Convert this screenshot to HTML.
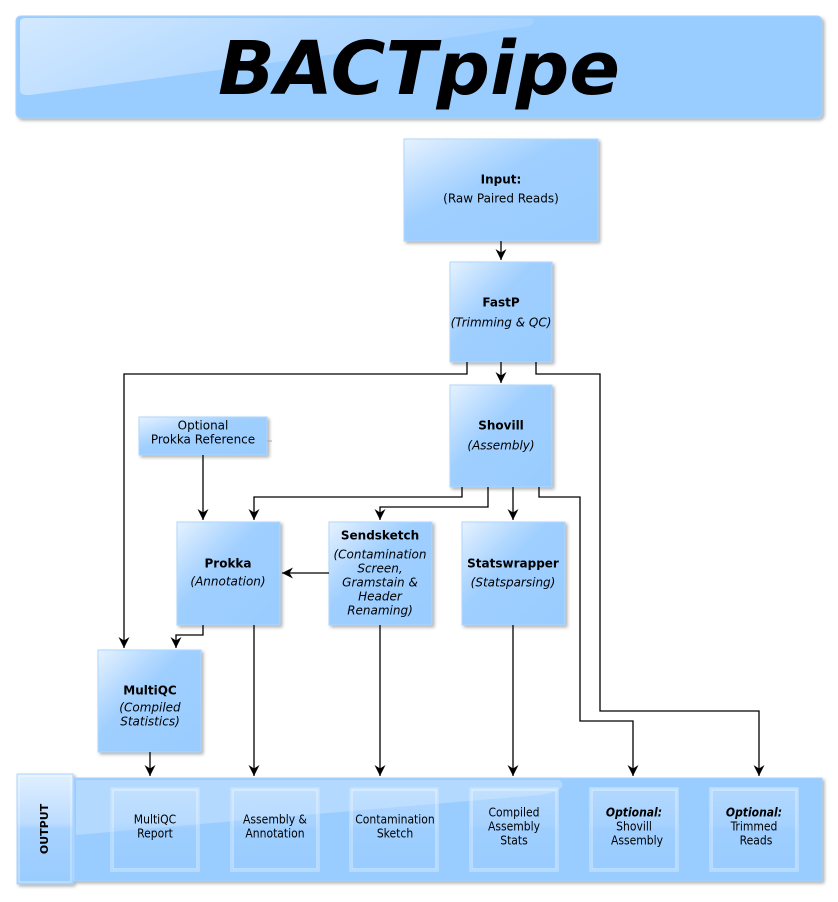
<!DOCTYPE html>
<html><head><meta charset="utf-8">
<style>
html,body{margin:0;padding:0;background:#fff;}
svg{display:block;font-family:"DejaVu Sans","Liberation Sans",sans-serif;}
</style></head><body>
<svg width="838" height="902" viewBox="0 0 838 902" xmlns="http://www.w3.org/2000/svg">
<defs>
<linearGradient id="gl" x1="0" y1="0" x2="1" y2="1">
<stop offset="0" stop-color="#e6f2ff"/><stop offset="0.3" stop-color="#b2d8ff"/><stop offset="0.42" stop-color="#9fcfff"/><stop offset="1" stop-color="#99ccff"/>
</linearGradient>
<linearGradient id="gv" x1="0" y1="0" x2="0" y2="1">
<stop offset="0" stop-color="#e0efff"/><stop offset="0.45" stop-color="#bcdcff"/><stop offset="0.5" stop-color="#a6d2ff"/><stop offset="1" stop-color="#99ccff"/>
</linearGradient>
<linearGradient id="gt" x1="0" y1="0" x2="1" y2="0.3">
<stop offset="0" stop-color="#e6f2ff"/><stop offset="0.6" stop-color="#b8dbff"/><stop offset="1" stop-color="#a6d2ff"/>
</linearGradient>
<filter id="sh" x="-10%" y="-10%" width="130%" height="130%"><feDropShadow dx="2" dy="2" stdDeviation="1.5" flood-color="#000" flood-opacity="0.3"/></filter>
<marker id="ar" markerWidth="12" markerHeight="12" refX="11" refY="5.5" orient="auto" markerUnits="userSpaceOnUse">
<path d="M0,0 L11,5.5 L0,11 L3.5,5.5 Z" fill="#000"/></marker>
</defs>

<rect x="16" y="16" width="806" height="102" rx="5" fill="#99ccff" stroke="#a8d3ff" filter="url(#sh)"/>
<path d="M20,22 Q20,18 26,18 L530,18 Q538,20 530,26 Q300,60 30,95 Q20,96 20,90 Z" fill="url(#gt)" opacity="0.75"/>
<text x="419" y="94" text-anchor="middle" font-size="74" font-weight="bold" font-style="italic" textLength="402" lengthAdjust="spacingAndGlyphs">BACTpipe</text>

<g stroke="#b0d8ff" stroke-width="1" filter="url(#sh)">
<rect x="404" y="139" width="194" height="102" fill="url(#gl)"/>
<rect x="450" y="262" width="102" height="100" fill="url(#gl)"/>
<rect x="450" y="385" width="102" height="102" fill="url(#gl)"/>
<rect x="139" y="417" width="128" height="38" fill="url(#gl)"/>
<rect x="177" y="522" width="103" height="103" fill="url(#gl)"/>
<rect x="329" y="522" width="103" height="103" fill="url(#gl)"/>
<rect x="462" y="522" width="103" height="103" fill="url(#gl)"/>
<rect x="98" y="650" width="103" height="102" fill="url(#gl)"/>
<rect x="74" y="778" width="748" height="103" fill="#99ccff" stroke="#a8d3ff"/>
<rect x="17" y="774" width="56" height="110" fill="url(#gv)"/>
</g>
<path d="M76,780 L560,780 Q570,790 540,795 Q300,815 76,835 Z" fill="#c4e1ff" opacity="0.6"/>
<g fill="none" stroke="#fff" stroke-opacity="0.6">
<rect x="19" y="776" width="52" height="106"/>
</g>
<g stroke="#cfe7ff" fill="url(#gv)" fill-opacity="0.35">
<rect x="111" y="788" width="88" height="83"/>
<rect x="231" y="788" width="88" height="83"/>
<rect x="350" y="788" width="88" height="83"/>
<rect x="470" y="788" width="88" height="83"/>
<rect x="590" y="788" width="88" height="83"/>
<rect x="710" y="788" width="88" height="83"/>
</g>
<g stroke="#fff" fill="none" stroke-opacity="0.6">
<rect x="113" y="790" width="84" height="79"/>
<rect x="233" y="790" width="84" height="79"/>
<rect x="352" y="790" width="84" height="79"/>
<rect x="472" y="790" width="84" height="79"/>
<rect x="592" y="790" width="84" height="79"/>
<rect x="712" y="790" width="84" height="79"/>
</g>

<g stroke="#000" stroke-width="1.3" fill="none" marker-end="url(#ar)">
<path d="M501,241 V260"/>
<path d="M501,362 V383"/>
<path d="M467,362 V374 H124 V648"/>
<path d="M536,362 V374 H600 V711 H759 V776"/>
<path d="M462,487 V497 H254 V520"/>
<path d="M488,487 V507 H380 V520"/>
<path d="M513,487 V520"/>
<path d="M539,487 V497 H580 V721 H633 V776"/>
<path d="M203,455 V520"/>
<path d="M329,573 H282"/>
<path d="M203,625 V635 H176 V648"/>
<path d="M254,625 V776"/>
<path d="M380,625 V776"/>
<path d="M513,625 V776"/>
<path d="M150,752 V776"/>
</g>
<path d="M267,441 H272" stroke="#aaa"/>

<g font-size="12" text-anchor="middle" fill="#000" transform="translate(0,-3.5)">
<text x="501" y="187" font-weight="bold">Input:</text>
<text x="501" y="206">(Raw Paired Reads)</text>
<text x="501" y="310" font-weight="bold">FastP</text>
<text x="501" y="330" font-style="italic">(Trimming &amp; QC)</text>
<text x="501" y="433" font-weight="bold">Shovill</text>
<text x="501" y="453" font-style="italic">(Assembly)</text>
<text x="203" y="433">Optional</text>
<text x="203" y="447">Prokka Reference</text>
<text x="228" y="571" font-weight="bold">Prokka</text>
<text x="228" y="589" font-style="italic">(Annotation)</text>
<text x="380" y="543" font-weight="bold">Sendsketch</text>
<g font-style="italic">
<text x="380" y="562">(Contamination</text>
<text x="380" y="576">Screen,</text>
<text x="380" y="590">Gramstain &amp;</text>
<text x="380" y="604">Header</text>
<text x="380" y="618">Renaming)</text>
</g>
<text x="513" y="571" font-weight="bold">Statswrapper</text>
<text x="513" y="590" font-style="italic">(Statsparsing)</text>
<text x="150" y="698" font-weight="bold">MultiQC</text>
<text x="150" y="715" font-style="italic">(Compiled</text>
<text x="150" y="729" font-style="italic">Statistics)</text>
<text transform="translate(48,832.5) rotate(-90)" font-weight="bold" font-size="11">OUTPUT</text>
<g font-family="'DejaVu Sans Condensed','DejaVu Sans',sans-serif">
<text x="155" y="827">MultiQC</text>
<text x="155" y="841">Report</text>
<text x="275" y="827">Assembly &amp;</text>
<text x="275" y="841">Annotation</text>
<text x="395" y="827">Contamination</text>
<text x="395" y="841">Sketch</text>
<text x="514" y="820">Compiled</text>
<text x="514" y="834">Assembly</text>
<text x="514" y="848">Stats</text>
<text x="634" y="820" font-weight="bold" font-style="italic">Optional:</text>
<text x="634" y="834">Shovill</text>
<text x="637" y="848">Assembly</text>
<text x="754" y="820" font-weight="bold" font-style="italic">Optional:</text>
<text x="754" y="834">Trimmed</text>
<text x="756" y="848">Reads</text>
</g>
</g>
</svg>
</body></html>
